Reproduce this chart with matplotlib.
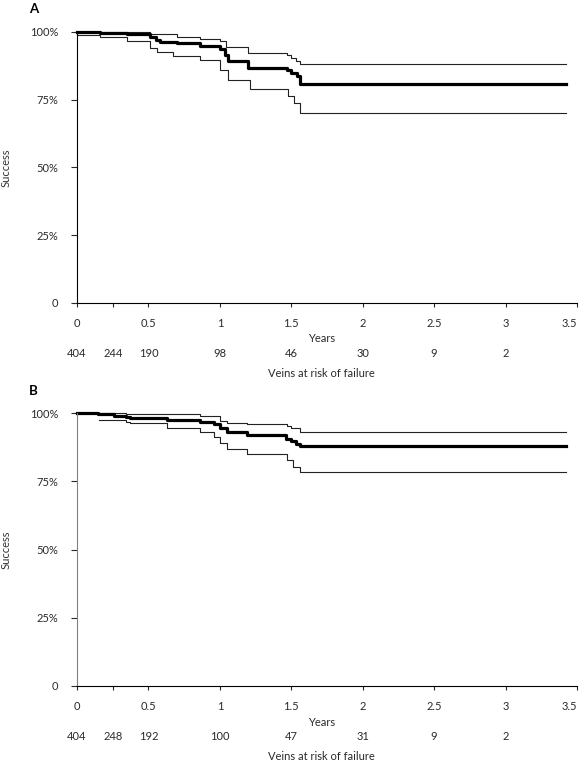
import matplotlib
matplotlib.use('Agg')
import matplotlib.pyplot as plt

plt.rcParams['font.family'] = ['Lato', 'DejaVu Sans']
plt.rcParams['font.size'] = 8

# panel A: survival estimate with confidence bounds
a_time = [0, 0.16, 0.35, 0.51, 0.55, 0.58, 0.70, 0.86, 1.00, 1.035, 1.06, 1.20, 1.47, 1.50, 1.54, 1.56, 3.42]
a_surv = [100, 99.6, 99.3, 98.2, 97.2, 96.4, 95.8, 94.7, 93.7, 91.6, 89.4, 86.7, 86.1, 84.9, 83.6, 80.8, 80.8]
a_up_time = [0, 0.51, 0.70, 0.86, 1.00, 1.04, 1.20, 1.47, 1.50, 1.53, 1.56, 3.42]
a_upper = [100, 99.1, 98.2, 97.5, 96.5, 94.3, 92.4, 91.6, 90.4, 89.3, 88.2, 88.2]
a_lo_time = [0, 0.16, 0.35, 0.51, 0.56, 0.67, 0.86, 1.00, 1.06, 1.21, 1.48, 1.52, 1.56, 3.42]
a_lower = [98.8, 98.0, 96.5, 94.1, 92.8, 91.0, 89.8, 86.1, 82.4, 79.0, 76.2, 73.8, 70.2, 70.2]

# panel B
b_time = [0, 0.15, 0.26, 0.34, 0.37, 0.63, 0.86, 0.96, 1.00, 1.05, 1.19, 1.46, 1.50, 1.53, 1.56, 3.42]
b_surv = [100, 99.6, 99.0, 98.4, 98.1, 97.5, 96.6, 96.0, 94.5, 93.0, 91.8, 90.5, 89.7, 88.7, 87.8, 87.8]
b_up_time = [0, 0.34, 0.86, 1.00, 1.05, 1.19, 1.47, 1.50, 1.56, 3.42]
b_upper = [100, 99.5, 98.8, 97.2, 96.4, 95.8, 95.2, 94.6, 93.2, 93.2]
b_lo_time = [0.155, 0.34, 0.37, 0.63, 0.86, 0.96, 1.00, 1.05, 1.19, 1.47, 1.51, 1.56, 3.42]
b_lower = [97.5, 96.6, 96.2, 94.5, 93.2, 91.2, 89.0, 86.7, 85.1, 82.7, 80.2, 78.4, 78.4]

# numbers at risk
risk_time = [0, 0.25, 0.5, 1, 1.5, 2, 2.5, 3]
a_risk = [404, 244, 190, 98, 46, 30, 9, 2]
b_risk = [404, 248, 192, 100, 47, 31, 9, 2]

x_ticks = [0, 0.25, 0.5, 1, 1.5, 2, 2.5, 3, 3.5]
x_labels = ['0', '', '0.5', '1', '1.5', '2', '2.5', '3', '3.5']
y_ticks = [0, 25, 50, 75, 100]
y_labels = ['0', '25%', '50%', '75%', '100%']

PX = 0.72  # points per pixel at 100 dpi
TXT = '#2a2a2a'


def draw_panel(ax, t, s, tu, up, tl, lo, risk, yaxis_color):
    ax.plot(tu, up, drawstyle='steps-post', color='#222222', lw=0.8, clip_on=False)
    ax.plot(tl, lo, drawstyle='steps-post', color='#222222', lw=0.8, clip_on=False)
    ax.plot(t, s, drawstyle='steps-post', color='black', lw=2.3, clip_on=False)
    ax.set_xlim(0, 3.5)
    ax.set_ylim(0, 100)
    ax.spines['top'].set_visible(False)
    ax.spines['right'].set_visible(False)
    ax.spines['left'].set_color(yaxis_color)
    ax.spines['bottom'].set_color('black')
    ax.set_xticks(x_ticks)
    ax.set_xticklabels(x_labels)
    ax.get_xticklabels()[-1].set_horizontalalignment('right')
    ax.set_yticks(y_ticks)
    ax.set_yticklabels(y_labels)
    ax.tick_params(axis='x', length=4 * PX, width=0.8, pad=11 * PX, colors=TXT)
    ax.tick_params(axis='y', length=6 * PX, width=0.8, pad=13 * PX, colors=TXT)
    ax.set_ylabel('Success', color='#333333')
    ax.yaxis.set_label_coords(-65 / 500, 0.5)
    xt = ax.get_xaxis_transform()
    ax.annotate('Years', xy=(1.71, 0), xycoords=xt, xytext=(0, -36 * PX),
                textcoords='offset points', ha='center', va='center', color=TXT)
    for x, n in zip(risk_time, risk):
        ax.annotate(str(n), xy=(x, 0), xycoords=xt, xytext=(0, -51 * PX),
                    textcoords='offset points', ha='center', va='center', color=TXT)
    ax.annotate('Veins at risk of failure', xy=(1.71, 0), xycoords=xt, xytext=(0, -71 * PX),
                textcoords='offset points', ha='center', va='center', color=TXT)


fig = plt.figure(figsize=(5.8, 7.65), dpi=100)
W, H = 580, 765
ax1 = fig.add_axes([77 / W, 1 - 303 / H, 500 / W, 271 / H])
ax2 = fig.add_axes([77 / W, 1 - 686 / H, 500 / W, 273 / H])

draw_panel(ax1, a_time, a_surv, a_up_time, a_upper, a_lo_time, a_lower, a_risk, 'black')
draw_panel(ax2, b_time, b_surv, b_up_time, b_upper, b_lo_time, b_lower, b_risk, '#808080')

fig.text(29 / W, 1 - 9 / H, 'A', fontsize=9.5, fontweight='bold', va='center', ha='left')
fig.text(29 / W, 1 - 391 / H, 'B', fontsize=9.5, fontweight='bold', va='center', ha='left')

fig.savefig('out.png', dpi=100)
